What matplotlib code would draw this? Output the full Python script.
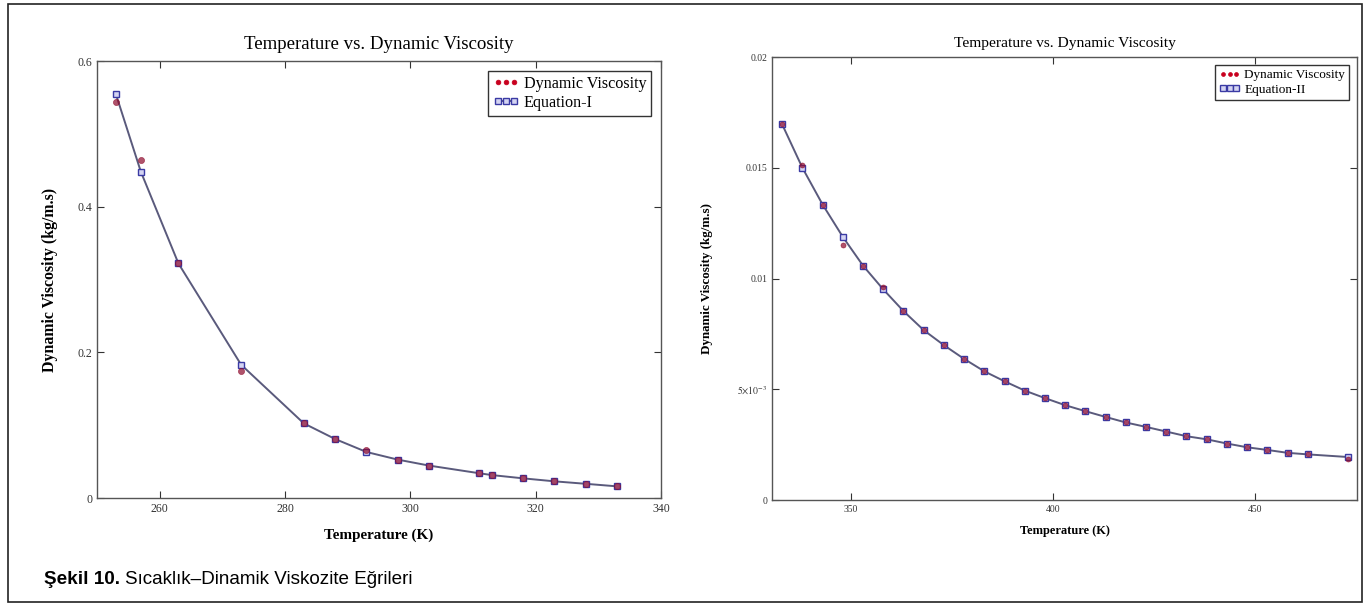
import matplotlib
matplotlib.use("Agg")
import matplotlib.pyplot as plt
from matplotlib.ticker import FixedLocator, FuncFormatter
from matplotlib.patches import Rectangle

# --- Data ---
temp_1 = [253, 257, 263, 273, 283, 288, 293, 298, 303, 311, 313, 318, 323, 328, 333]
visc_1 = [0.544, 0.464, 0.322, 0.174, 0.1025, 0.081, 0.066, 0.0527, 0.0445, 0.034,
          0.0315, 0.027, 0.0229, 0.0195, 0.016]
eq_1 = [0.555, 0.448, 0.322, 0.183, 0.1025, 0.081, 0.0632, 0.0527, 0.0445, 0.034,
        0.0315, 0.027, 0.0229, 0.0195, 0.016]

temp_2 = [333, 338, 343, 348, 353, 358, 363, 368, 373, 378, 383, 388, 393, 398,
          403, 408, 413, 418, 423, 428, 433, 438, 443, 448, 453, 458, 463, 473]
visc_2 = [0.01696, 0.01513, 0.01334, 0.0115, 0.01058, 0.00963, 0.00853, 0.00767,
          0.00699, 0.00637, 0.00581, 0.00536, 0.00494, 0.0046, 0.00428, 0.00401,
          0.00375, 0.0035, 0.0033, 0.00309, 0.00288, 0.00274, 0.00255, 0.00238,
          0.00226, 0.00213, 0.00206, 0.00186]
eq_2 = [0.01696, 0.0150, 0.01334, 0.01188, 0.01058, 0.00951, 0.00853, 0.00767,
        0.00699, 0.00637, 0.00581, 0.00536, 0.00494, 0.0046, 0.00428, 0.00401,
        0.00375, 0.0035, 0.0033, 0.00309, 0.00288, 0.00274, 0.00255, 0.00238,
        0.00226, 0.00213, 0.00206, 0.00194]

title = "Temperature vs. Dynamic Viscosity"
xlabel = "Temperature (K)"
ylabel = "Dynamic Viscosity (kg/m.s)"

plt.rcParams["font.family"] = ["Liberation Serif", "DejaVu Serif"]
plt.rcParams["mathtext.fontset"] = "stix"

fig = plt.figure(figsize=(13.66, 6.06), dpi=100)

line_col = "#5a5a7c"
sq_edge = "#3a3aa4"
sq_face = "#d4d4f2"
dot_col = "#8e0a2c"
legend_dot = "#c8001e"


def panel(ax, t, visc, eq, eq_name, scale):
    ax.plot(t, eq, "-", color=line_col, lw=1.4, marker="s", ms=5 * scale,
            mec=sq_edge, mfc=sq_face, mew=1.0, label=eq_name, zorder=2)
    ax.plot(t, visc, ls="none", marker="o", ms=4.4 * scale, color=dot_col,
            mec=dot_col, mew=0.5, label="Dynamic Viscosity", zorder=3, alpha=0.7)
    ax.tick_params(direction="in", top=True, right=True, length=5,
                   width=0.8, labelsize=8.5 * scale, colors="#333333")
    for s in ax.spines.values():
        s.set_color("#555555")
        s.set_linewidth(1.0)
    ax.set_title(title, fontsize=13.6 * scale, pad=9 * scale)
    ax.set_xlabel(xlabel, fontsize=10.9 * scale, fontweight="bold", labelpad=10 * scale)
    ax.set_ylabel(ylabel, fontsize=11.4 * scale, fontweight="bold", labelpad=14 * scale)
    h, l = ax.get_legend_handles_labels()
    leg = ax.legend(h[::-1], l[::-1], loc="upper right", fontsize=11.6 * scale,
                    numpoints=3, handlelength=1.6, handletextpad=0.3,
                    borderpad=0.3, labelspacing=0.2, fancybox=False,
                    framealpha=1, edgecolor="#333333", borderaxespad=0.6)
    leg.get_frame().set_linewidth(1.0)
    dot_handle = leg.legend_handles[0]
    dot_handle.set_alpha(1)
    dot_handle.set_color(legend_dot)
    dot_handle.set_markeredgecolor(legend_dot)
    dot_handle.set_markersize(3.4 * scale)
    return leg


# Left panel
ax1 = fig.add_axes([0.0710, 0.1782, 0.4129, 0.7211])
panel(ax1, temp_1, visc_1, eq_1, "Equation-I", 1.0)
ax1.set_xlim(250, 340)
ax1.set_ylim(0, 0.6)
ax1.xaxis.set_major_locator(FixedLocator([260, 280, 300, 320, 340]))
ax1.yaxis.set_major_locator(FixedLocator([0, 0.2, 0.4, 0.6]))
ax1.yaxis.set_major_formatter(FuncFormatter(lambda v, p: "0" if v == 0 else f"{v:g}"))

# Right panel
ax2 = fig.add_axes([0.5652, 0.1749, 0.4283, 0.7310])
panel(ax2, temp_2, visc_2, eq_2, "Equation-II", 0.82)
ax2.yaxis.labelpad = 17
ax2.set_xlim(330.5, 475.2)
ax2.set_ylim(0, 0.02)
ax2.xaxis.set_major_locator(FixedLocator([350, 400, 450]))
ax2.yaxis.set_major_locator(FixedLocator([0, 0.005, 0.01, 0.015, 0.02]))
ytl = {0: "0", 0.005: r"$5{\times}10^{-3}$", 0.01: "0.01", 0.015: "0.015", 0.02: "0.02"}
ax2.yaxis.set_major_formatter(FuncFormatter(lambda v, p: ytl.get(round(v, 3), f"{v:g}")))

# outer frame
fig.patches.append(Rectangle((8 / 1366, 4 / 606), 1 - 12 / 1366, 1 - 8 / 606,
                             transform=fig.transFigure, fill=False,
                             edgecolor="#222222", lw=1.2))

# caption
cap_font = ["Liberation Sans", "DejaVu Sans"]
cap_y = 1 - 580 / 606
t1 = fig.text(44 / 1366, cap_y, "Şekil 10.", fontsize=13.6, fontweight="bold",
              family=cap_font, va="center", ha="left")
fig.canvas.draw()
bb = t1.get_window_extent()
x_after = (bb.x1 + 5) / fig.bbox.width
fig.text(x_after, cap_y, "Sıcaklık–Dinamik Viskozite Eğrileri", fontsize=13.6,
         family=cap_font, va="center", ha="left")

fig.savefig("out.png", dpi=100)
